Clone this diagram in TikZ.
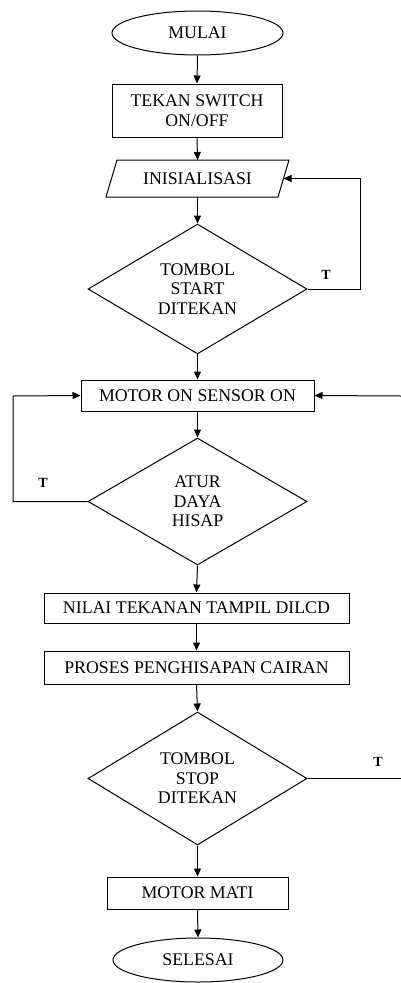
\documentclass[tikz,border=0pt]{standalone}
\usepackage{fontspec}
\setmainfont{Liberation Serif}
\usetikzlibrary{shapes.geometric,arrows.meta}
\begin{document}
\begin{tikzpicture}[x=1pt,y=-1pt,
  line width=1pt,
  every node/.style={font=\fontsize{17.8}{19.5}\selectfont, align=center, inner sep=0pt},
  terminal/.style={draw, ellipse, minimum width=171pt, minimum height=44pt},
  process/.style={draw, rectangle},
  decision/.style={draw, diamond, minimum width=219pt, minimum height=128pt},
  flow/.style={-{Triangle[length=8pt,width=7pt]}},
  lbl/.style={font=\fontsize{14}{16}\selectfont\bfseries}]
\useasboundingbox (0,0) rectangle (401,983);

% main column
\node[terminal] (mulai) at (197.5,33) {MULAI};
\node[process, minimum width=170pt, minimum height=53pt] (tekan) at (197,110.5) {TEKAN SWITCH\\ON/OFF};
\node (init) at (197.5,178.5) {INISIALISASI};
\draw (117,160) -- (289,160) -- (278,197) -- (106,197) -- cycle;
\coordinate (initTop) at (197.5,160);
\coordinate (initBot) at (197.5,197);
\coordinate (initR) at (283.5,178.5);
\node[decision] (d1) at (197.5,289) {TOMBOL\\START\\DITEKAN};
\node[process, minimum width=233pt, minimum height=31pt] (motor) at (197.5,395.5) {MOTOR ON SENSOR ON};
\node[decision, minimum height=127pt] (d2) at (197.5,501.5) {ATUR\\DAYA\\HISAP};
\node[process, minimum width=305pt, minimum height=30pt] (nilai) at (196.5,608) {NILAI TEKANAN TAMPIL DILCD};
\node[process, minimum width=305pt, minimum height=33pt] (proses) at (196.5,667.5) {PROSES PENGHISAPAN CAIRAN};
\node[decision, minimum height=133pt] (d3) at (197.5,778.5) {TOMBOL\\STOP\\DITEKAN};
\node[process, minimum width=181pt, minimum height=32pt] (mati) at (197.5,893) {MOTOR MATI};
\node[terminal, minimum width=170pt] (selesai) at (198,960) {SELESAI};

% branch labels
\node[lbl] (t1) at (326,275) {T};
\node[lbl] (t2) at (43,483) {T};
\node[lbl] (t3) at (378,762) {T};

% free ends at the right margin
\coordinate (rin) at (401,396);
\coordinate (rout) at (401,778.5);

% connectors
\draw[flow] (mulai.south) -- (tekan.north);
\draw[flow] (tekan.south) -- (initTop);
\draw[flow] (initBot) -- (d1.north);
\draw[flow] (d1.east) -- (360,289) -- (360,178.5) -- (initR);
\draw[flow] (d1.south) -- (motor.north);
\draw[flow] (motor.south) -- (d2.north);
\draw[flow] (d2.west) -- (13,501.5) -- (13,396) -- (motor.west);
\draw[flow] (rin) -- (motor.east);
\draw[flow] (d2.south) -- (nilai.north);
\draw[flow] (nilai.south) -- (proses.north);
\draw[flow] (proses.south) -- (d3.north);
\draw (d3.east) -- (rout);
\draw[flow] (d3.south) -- (mati.north);
\draw[flow] (mati.south) -- (selesai.north);
\end{tikzpicture}
\end{document}
